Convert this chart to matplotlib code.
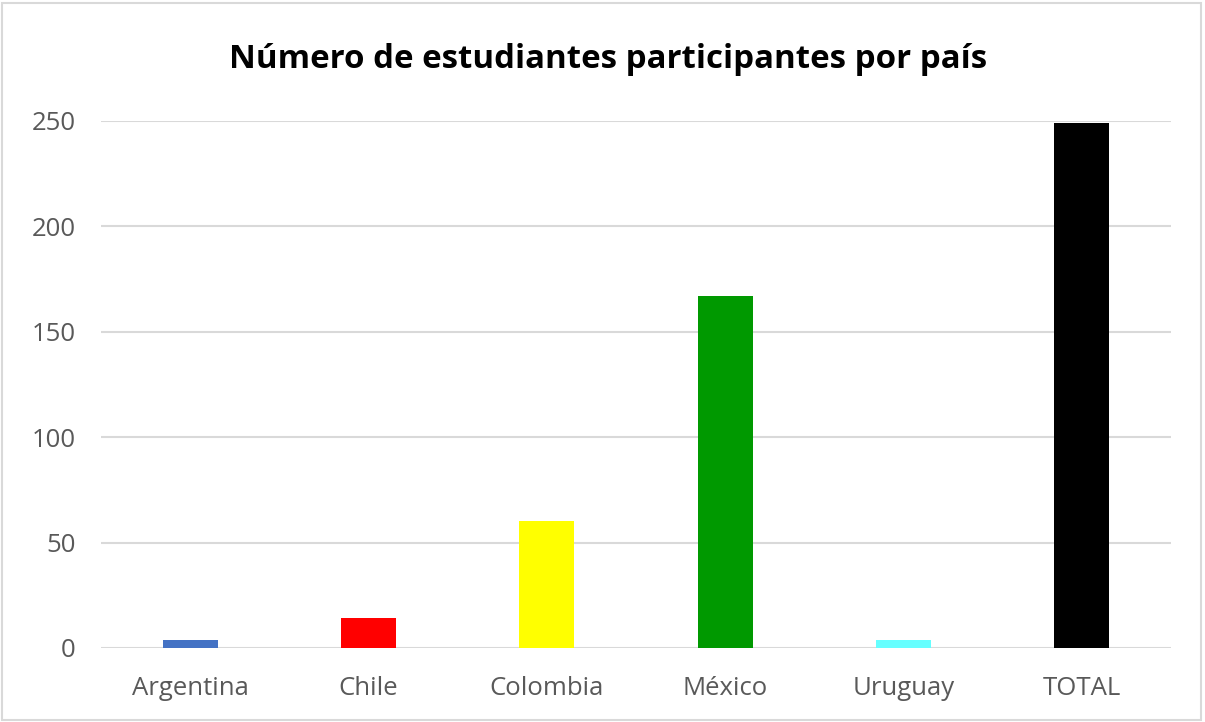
import matplotlib.pyplot as plt
from matplotlib.patches import Rectangle

paises = ['Argentina', 'Chile', 'Colombia', 'México', 'Uruguay', 'TOTAL']
estudiantes = [4, 14, 60, 167, 4, 249]
colores = ['#4472c4', '#ff0000', '#ffff00', '#009900', '#66ffff', '#000000']
yticks = [0, 50, 100, 150, 200, 250]

plt.rcParams['font.family'] = ['Open Sans', 'DejaVu Sans']

fig = plt.figure(figsize=(12.05, 7.22), dpi=100)
ax = fig.add_axes([0.0838, 0.1025, 0.888, 0.7305])

x = list(range(len(paises)))
ax.bar(x, estudiantes, width=0.31, color=colores, zorder=3)

ax.set_xlim(-0.5, len(paises) - 0.5)
ax.set_ylim(0, 250)
ax.set_yticks(yticks)
ax.set_xticks(x)
ax.set_xticklabels(paises)
ax.yaxis.grid(True, color='#d9d9d9', linewidth=1.5, zorder=0)
ax.set_axisbelow(True)
for s in ax.spines.values():
    s.set_visible(False)
ax.tick_params(axis='both', length=0, labelsize=18.5, labelcolor='#595959')
ax.tick_params(axis='x', pad=20)
ax.tick_params(axis='y', pad=18)

fig.text(0.5045, 0.918, 'Número de estudiantes participantes por país',
         ha='center', va='center', fontsize=23.8, fontweight='bold', color='#000000')

# borde del gráfico
fig.patches.append(Rectangle((0.002, 0.003), 0.995, 0.993, transform=fig.transFigure,
                             fill=False, edgecolor='#d9d9d9', linewidth=1.5))

plt.savefig('out.png')
